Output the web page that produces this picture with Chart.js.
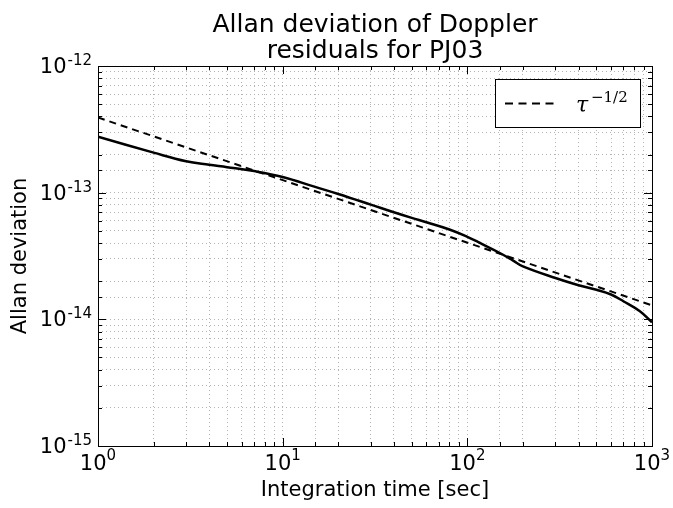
<!DOCTYPE html>
<html>
<head>
<meta charset="utf-8">
<script src="https://cdn.jsdelivr.net/npm/chart.js@4.4.1/dist/chart.umd.min.js"></script>
<style>
  html, body { margin: 0; padding: 0; background: #fff; }
  canvas { display: block; }
</style>
</head>
<body>
<canvas id="allanChart" width="673" height="508"></canvas>
<script>
// --- data ---
const titleLines = ['Allan deviation of Doppler', 'residuals for PJ03'];
const xLabel = 'Integration time [sec]';
const yLabel = 'Allan deviation';

const tauValues = [1, 2, 3, 4, 5, 7, 10, 15, 20, 30, 40, 50, 60, 80, 100, 117, 150, 177, 200,
  300, 400, 500, 600, 700, 860, 1000];
const allanValues = [2.76e-13, 2.07e-13, 1.77e-13, 1.66e-13, 1.59e-13, 1.48e-13, 1.33e-13, 1.11e-13,
  9.77e-14, 8.05e-14, 7.0e-14, 6.32e-14, 5.84e-14, 5.12e-14, 4.48e-14, 4.01e-14, 3.34e-14,
  2.91e-14, 2.62e-14, 2.12e-14, 1.86e-14, 1.71e-14, 1.57e-14, 1.39e-14, 1.16e-14, 9.47e-15];

// tau^-1/2 reference line, end points
const refTau = [1, 1000];
const refValues = [3.92e-13, 1.29e-14];

const xTickExps = [0, 1, 2, 3];
const yTickExps = [-15, -14, -13, -12];

const FONT = '"DejaVu Sans", sans-serif';
const gridColor = '#b4b4b4';

const isDecade = v => Math.abs(Math.log10(v) - Math.round(Math.log10(v))) < 1e-6;

// frame, inward ticks, 10^n labels and the legend box
const decorPlugin = {
  id: 'decor',
  afterDraw(chart) {
    const { ctx, chartArea: a, scales } = chart;
    ctx.save();
    ctx.strokeStyle = '#000';
    ctx.lineWidth = 1;
    ctx.setLineDash([]);

    // ticks on all four sides
    ctx.beginPath();
    scales.x.ticks.forEach(t => {
      const px = Math.round(scales.x.getPixelForValue(t.value)) + 0.5;
      const len = isDecade(t.value) ? 8 : 4;
      ctx.moveTo(px, a.bottom); ctx.lineTo(px, a.bottom - len);
      ctx.moveTo(px, a.top); ctx.lineTo(px, a.top + len);
    });
    scales.y.ticks.forEach(t => {
      const py = Math.round(scales.y.getPixelForValue(t.value)) + 0.5;
      const len = isDecade(t.value) ? 8 : 4;
      ctx.moveTo(a.left, py); ctx.lineTo(a.left + len, py);
      ctx.moveTo(a.right, py); ctx.lineTo(a.right - len, py);
    });
    ctx.stroke();

    // frame
    ctx.strokeRect(Math.round(a.left) + 0.5, Math.round(a.top) + 0.5,
      Math.round(a.right - a.left), Math.round(a.bottom - a.top));

    // tick labels
    ctx.fillStyle = '#000';
    ctx.textBaseline = 'alphabetic';
    const baseFont = '21px ' + FONT;
    const supFont = '15px ' + FONT;

    xTickExps.forEach(e => {
      const px = scales.x.getPixelForValue(Math.pow(10, e));
      ctx.font = baseFont;
      const wb = ctx.measureText('10').width;
      ctx.font = supFont;
      const ws = ctx.measureText(String(e)).width;
      const x0 = px - (wb + ws) / 2;
      ctx.textAlign = 'left';
      ctx.font = baseFont;
      ctx.fillText('10', x0, a.bottom + 24);
      ctx.font = supFont;
      ctx.fillText(String(e), x0 + wb, a.bottom + 14);
    });

    yTickExps.forEach(e => {
      const py = scales.y.getPixelForValue(Math.pow(10, e));
      const right = a.left - 6;
      ctx.font = supFont;
      const ws = ctx.measureText(String(e)).width;
      ctx.textAlign = 'right';
      ctx.fillText(String(e), right, py - 1);
      ctx.font = baseFont;
      ctx.fillText('10', right - ws - 1, py + 7);
    });

    // legend
    const lx = 495, ly = 79, lw = 145, lh = 48;
    ctx.fillStyle = '#fff';
    ctx.fillRect(lx, ly, lw, lh);
    ctx.strokeStyle = '#000';
    ctx.lineWidth = 1;
    ctx.strokeRect(lx + 0.5, ly + 0.5, lw, lh);
    ctx.lineWidth = 2;
    ctx.setLineDash([8, 5.5]);
    ctx.beginPath();
    ctx.moveTo(505, 103.5);
    ctx.lineTo(556, 103.5);
    ctx.stroke();
    ctx.setLineDash([]);
    ctx.fillStyle = '#000';
    ctx.textAlign = 'left';
    ctx.font = 'italic 22px "DejaVu Serif", serif';
    ctx.fillText('τ', 576, 112);
    ctx.font = '15px "DejaVu Serif", serif';
    ctx.fillText('−1/2', 591, 102);

    ctx.restore();
  }
};

new Chart(document.getElementById('allanChart').getContext('2d'), {
  type: 'line',
  data: {
    datasets: [
      {
        label: 'Allan deviation',
        data: tauValues.map((t, i) => ({ x: t, y: allanValues[i] })),
        borderColor: '#000',
        borderWidth: 2.5,
        pointRadius: 0,
        fill: false,
        tension: 0.4
      },
      {
        label: 'τ^-1/2',
        data: refTau.map((t, i) => ({ x: t, y: refValues[i] })),
        borderColor: '#000',
        borderWidth: 2,
        borderDash: [7, 5],
        pointRadius: 0,
        fill: false
      }
    ]
  },
  options: {
    responsive: false,
    animation: false,
    devicePixelRatio: 1,
    layout: { padding: { left: 0, right: 21, top: 0, bottom: 0 } },
    plugins: {
      legend: { display: false },
      tooltip: { enabled: false },
      title: {
        display: true,
        fullSize: false,
        text: titleLines,
        color: '#000',
        font: { family: FONT, size: 25, weight: 'normal', lineHeight: 1.04 },
        padding: { top: 12, bottom: 2 }
      }
    },
    scales: {
      x: {
        type: 'logarithmic',
        position: 'bottom',
        min: 1,
        max: 1000,
        ticks: { display: false },
        grid: { color: gridColor, lineWidth: 1, drawTicks: false },
        border: { display: false, dash: [1, 3] },
        title: {
          display: true,
          text: xLabel,
          color: '#000',
          font: { family: FONT, size: 21 },
          padding: { top: 0, bottom: 5 }
        },
        afterFit(s) { s.height = 62; }
      },
      y: {
        type: 'logarithmic',
        position: 'left',
        min: 1e-15,
        max: 1e-12,
        ticks: { display: false },
        grid: { color: gridColor, lineWidth: 1, drawTicks: false },
        border: { display: false, dash: [1, 3] },
        title: {
          display: true,
          text: yLabel,
          color: '#000',
          font: { family: FONT, size: 21 },
          padding: { top: 8, bottom: 0 }
        },
        afterFit(s) { s.width = 98; }
      }
    }
  },
  plugins: [decorPlugin]
});
</script>
</body>
</html>
